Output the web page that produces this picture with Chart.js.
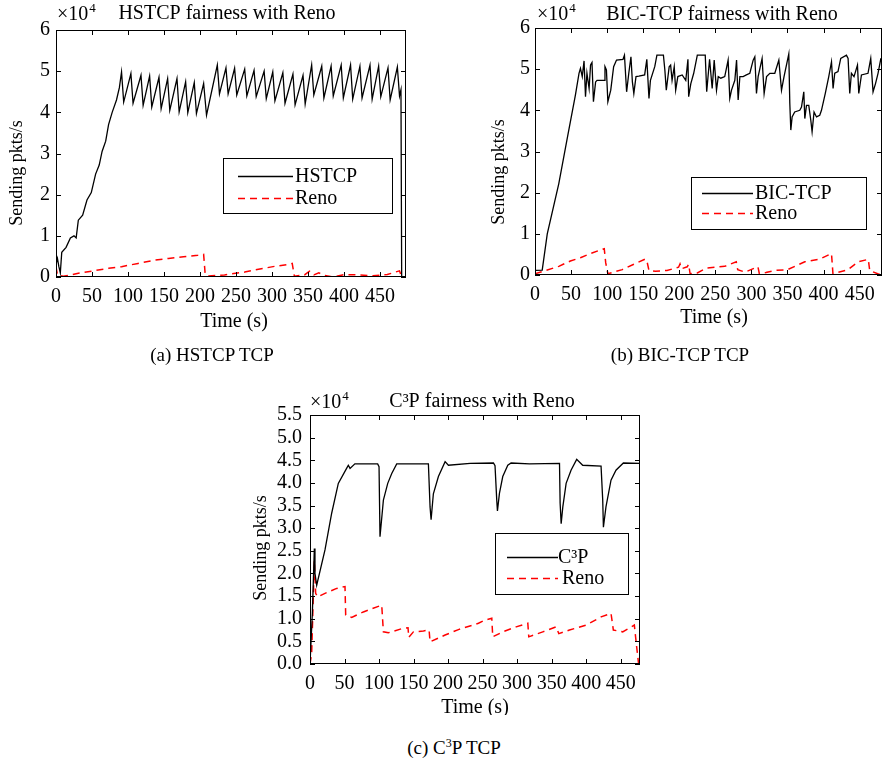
<!DOCTYPE html>
<html>
<head>
<meta charset="utf-8">
<title>Fairness with Reno</title>
<script src="https://cdn.jsdelivr.net/npm/chart.js@4.4.0/dist/chart.umd.min.js"></script>
<style>
  body { margin: 0; background: #fff; width: 889px; height: 759px; position: relative; overflow: hidden;
         font-family: 'Liberation Serif', 'Times New Roman', serif; color: #000; }
  .panel { position: absolute; }
  .caption { position: absolute; font-size: 19px; line-height: 20px; transform: translateX(-50%); white-space: nowrap; }
</style>
</head>
<body>
<div class="panel" style="left:0;top:0"><canvas id="hstcpChart" width="440" height="345"></canvas></div>
<div class="panel" style="left:445px;top:0"><canvas id="bicChart" width="444" height="345"></canvas></div>
<div class="panel" style="left:230px;top:385px"><canvas id="c3pChart" width="440" height="330"></canvas></div>
<div class="caption" style="left:212px;top:345px">(a) HSTCP TCP</div>
<div class="caption" style="left:680px;top:345px">(b) BIC-TCP TCP</div>
<div class="caption" style="left:454px;top:733px">(c) C<sup style="font-size:12px">3</sup>P TCP</div>

<script>
const SERIF = "'Liberation Serif', 'Times New Roman', serif";

// tick labels
const timeTicks = [0, 50, 100, 150, 200, 250, 300, 350, 400, 450];
const rateTicksAB = [0, 1, 2, 3, 4, 5, 6];
const rateTicksC = [0, 0.5, 1, 1.5, 2, 2.5, 3, 3.5, 4, 4.5, 5, 5.5];

// (a) HSTCP vs Reno, sending rate in units of 1e4 pkts/s
const hstcpTime = [0, 2, 4, 6, 8, 14, 20, 25, 28, 31, 37, 43, 49, 55, 60, 64, 69, 73, 78, 84, 88, 91, 94, 104, 107,
  118, 121, 130, 133, 143, 146, 155, 158, 168, 171, 180, 183, 192, 195, 205, 209, 224, 227, 236, 239, 248, 251,
  262, 265, 275, 278, 289, 292, 301, 304, 315, 318, 329, 332, 343, 346, 355, 358, 369, 372, 382, 385, 396, 399,
  409, 412, 422, 425, 436, 439, 448, 451, 461, 464, 474, 477, 479, 480];
const hstcpRate = [0.3, 0.45, 0.25, 0.1, 0.6, 0.72, 0.95, 1.0, 0.95, 1.38, 1.5, 1.87, 2.05, 2.5, 2.72, 3.05, 3.3, 3.7,
  4.0, 4.3, 4.6, 4.98, 4.25, 4.94, 4.22, 4.90, 4.17, 4.88, 4.13, 4.85, 4.09, 4.82, 4.05, 4.82, 4.01, 4.74, 3.99,
  4.72, 3.97, 4.70, 3.93, 5.15, 4.45, 5.08, 4.45, 5.07, 4.42, 5.05, 4.40, 5.02, 4.38, 5.00, 4.33, 4.98, 4.28,
  4.96, 4.22, 4.93, 4.18, 4.90, 4.20, 5.15, 4.42, 5.12, 4.35, 5.12, 4.40, 5.15, 4.35, 5.15, 4.32, 5.12, 4.35,
  5.15, 4.32, 5.12, 4.38, 5.08, 4.30, 5.10, 4.40, 4.55, 0];
const renoATime = [0, 2, 10, 20, 31, 52, 73, 91, 114, 137, 156, 177, 197, 205, 207, 210, 234, 262, 285, 304, 320,
  328, 331, 345, 352, 358, 365, 373, 385, 400, 420, 440, 460, 477, 480];
const renoARate = [0.25, 0.05, 0.02, 0.05, 0.09, 0.15, 0.21, 0.25, 0.33, 0.41, 0.45, 0.49, 0.53, 0.55, 0.1, 0.02,
  0.05, 0.12, 0.2, 0.26, 0.3, 0.33, 0.02, 0.05, 0.14, 0.05, 0.1, 0.04, 0.0, 0.06, 0.05, 0.03, 0.06, 0.15, 0];

// (b) BIC-TCP vs Reno
const bicTime = [0, 10, 17, 33, 45, 56, 61, 63, 65.5, 68, 70, 72, 75, 77, 79, 81, 84, 86, 96, 97, 99, 101, 105,
  109, 113, 122, 124, 127, 130, 133, 135, 137, 140, 144, 152, 155, 158, 160, 166, 169, 178, 180, 182, 186, 188,
  190, 193, 195, 198, 204, 209, 212, 213, 216, 220, 225, 236, 238, 242, 245.6, 248.4, 251.6, 254, 257.6, 263,
  267.7, 270, 272.4, 277, 279.4, 281.6, 284, 288.5, 293, 297.8, 302.4, 304.7, 307, 309.3, 314.8, 317.6, 321,
  325.5, 332.4, 338, 341.7, 345.2, 350, 351.8, 353.2, 354.6, 356.4, 360, 367, 369.4, 372.6, 374, 376.3, 379.5,
  382.3, 384.1, 386.8, 390.2, 394.7, 397.1, 402.4, 407.2, 411, 413.2, 415.5, 420, 423.8, 431.7, 434, 436.3,
  438.6, 442.2, 447, 448.8, 452.5, 461.6, 465.4, 468.6, 472, 475.5, 479.2, 481];
const bicRate = [0.11, 0.12, 1.0, 2.22, 3.35, 4.37, 4.9, 5.02, 4.82, 5.2, 4.33, 4.9, 4.53, 5.1, 5.16, 4.21, 4.69,
  4.73, 4.73, 5.06, 4.98, 4.21, 4.49, 5.06, 5.22, 5.24, 5.34, 4.45, 4.9, 5.3, 4.69, 4.41, 4.82, 4.83, 4.86, 5.24,
  4.29, 4.73, 5.06, 5.34, 5.34, 4.98, 4.49, 5.06, 5.1, 4.73, 5.06, 4.49, 4.82, 4.86, 4.73, 5.24, 4.33, 4.65, 4.9,
  5.34, 5.34, 4.45, 5.24, 4.53, 5.22, 4.49, 4.82, 4.78, 4.82, 5.22, 4.29, 4.49, 4.73, 5.22, 4.25, 4.82, 4.82,
  4.86, 4.9, 5.22, 5.3, 4.41, 4.82, 5.26, 4.41, 4.82, 4.9, 4.9, 5.22, 4.49, 4.82, 5.22, 5.37, 4.17, 3.52, 3.84,
  3.96, 4.0, 4.08, 4.45, 3.80, 4.12, 4.12, 3.76, 3.48, 3.96, 3.84, 3.88, 4.0, 4.41, 4.82, 5.18, 4.53, 4.9, 4.94,
  5.26, 5.34, 5.26, 4.41, 4.9, 4.82, 5.1, 4.41, 4.86, 4.9, 5.26, 4.45, 4.65, 4.9, 5.24, 5.2];
const renoBTime = [0, 15, 33, 49, 63, 77, 91, 96, 98, 101, 121, 137, 153, 155, 158, 167, 183, 199, 201, 203, 211,
  213, 215, 225, 238, 263, 279, 281, 291, 309, 311, 320, 332, 350, 374, 395, 411, 413, 434, 448, 462, 464, 475, 481];
const renoBRate = [0.03, 0.11, 0.21, 0.34, 0.42, 0.52, 0.61, 0.64, 0.3, 0.03, 0.13, 0.26, 0.39, 0.35, 0.11, 0.09,
  0.11, 0.19, 0.27, 0.15, 0.2, 0.26, 0.03, 0.05, 0.17, 0.21, 0.32, 0.13, 0.07, 0.2, 0.03, 0.06, 0.11, 0.13, 0.32,
  0.39, 0.52, 0.03, 0.13, 0.32, 0.38, 0.11, 0.03, 0.0];

// (c) C3P vs Reno
const c3pTime = [0, 3.4, 6.3, 7.2, 9.7, 21.7, 31.4, 41, 53, 55.5, 58, 65, 98, 100, 101.4, 106.3, 112.6, 118.4,
  125.6, 171.5, 173.9, 175.4, 178.7, 186, 195.7, 200.5, 232, 265.7, 268, 270.5, 271.5, 274.4, 279.2, 286.5, 291.3,
  318, 361.4, 362.3, 363.8, 366.2, 371, 378.1, 386.3, 395, 421.6, 424, 425, 428.7, 436, 443.2, 453.9, 478];
const c3pRate = [0, 1.12, 2.55, 2.0, 1.74, 2.52, 3.33, 3.99, 4.32, 4.39, 4.32, 4.42, 4.42, 4.36, 2.81, 3.62, 3.99,
  4.21, 4.42, 4.42, 3.47, 3.19, 3.76, 4.14, 4.47, 4.39, 4.43, 4.44, 4.38, 3.62, 3.38, 3.77, 4.14, 4.39, 4.44,
  4.42, 4.43, 3.55, 3.1, 3.47, 3.99, 4.28, 4.52, 4.39, 4.37, 3.62, 3.02, 3.47, 4.06, 4.28, 4.44, 4.43];
const renoCTime = [0, 2.4, 6.3, 8.2, 11.1, 21.7, 38.6, 50.7, 51.7, 60.4, 77.3, 103.9, 106.3, 113.5, 132.9, 142,
  143, 149.8, 164.3, 172.5, 173.9, 195.7, 215, 244, 253.6, 263.3, 264.7, 279.2, 298.6, 315.5, 316.9, 337.2,
  356.5, 360.4, 375.8, 400, 421.6, 436, 439.4, 452.9, 469.8, 473, 476];
const renoCRate = [0, 0.23, 2.29, 1.56, 1.48, 1.56, 1.67, 1.71, 1.08, 1.03, 1.15, 1.3, 0.71, 0.69, 0.78, 0.8, 0.59,
  0.71, 0.73, 0.75, 0.49, 0.64, 0.76, 0.9, 0.97, 1.01, 0.6, 0.71, 0.82, 0.9, 0.6, 0.71, 0.82, 0.67, 0.75, 0.86,
  1.04, 1.12, 0.75, 0.71, 0.86, 0.4, 0];

function pairs(t, v) {
  return t.map((x, i) => ({ x: x, y: v[i] }));
}

// matlab-like box: frame, inward ticks, title, exponent, axis titles, boxed legend
const paperFrame = {
  id: 'paperFrame',
  afterDraw(chart, args, o) {
    const ctx = chart.ctx;
    const a = chart.chartArea;
    const xs = chart.scales.x, ys = chart.scales.y;
    ctx.save();
    ctx.strokeStyle = '#000';
    ctx.lineWidth = 1;
    ctx.setLineDash([]);
    ctx.strokeRect(a.left + 0.5, a.top + 0.5, a.right - a.left - 1, a.bottom - a.top - 1);
    ctx.beginPath();
    xs.ticks.forEach(t => {
      const px = Math.round(xs.getPixelForValue(t.value)) + 0.5;
      ctx.moveTo(px, a.bottom); ctx.lineTo(px, a.bottom - 5);
      ctx.moveTo(px, a.top); ctx.lineTo(px, a.top + 5);
    });
    ys.ticks.forEach(t => {
      const py = Math.round(ys.getPixelForValue(t.value)) + 0.5;
      ctx.moveTo(a.left, py); ctx.lineTo(a.left + 5, py);
      ctx.moveTo(a.right, py); ctx.lineTo(a.right - 5, py);
    });
    ctx.stroke();

    ctx.fillStyle = '#000';
    ctx.textBaseline = 'middle';
    ctx.textAlign = 'center';
    ctx.font = '20px ' + SERIF;
    ctx.fillText(o.title, a.left + o.titleX, a.top + o.titleY);
    ctx.fillText(o.xTitle, a.left + o.xTitleX, a.bottom + o.xTitleY);

    ctx.textAlign = 'left';
    ctx.font = '20px ' + SERIF;
    ctx.fillText('\u00d710', a.left + o.expX, a.top + o.expY);
    const w = ctx.measureText('\u00d710').width;
    ctx.font = '13px ' + SERIF;
    ctx.fillText('4', a.left + o.expX + w + 1, a.top + o.expY - 6);

    ctx.save();
    ctx.translate(a.left + o.yTitleX, a.top + o.yTitleY);
    ctx.rotate(-Math.PI / 2);
    ctx.textAlign = 'center';
    ctx.font = '18px ' + SERIF;
    ctx.fillText(o.yTitle, 0, 0);
    ctx.restore();

    const L = o.legend;
    ctx.fillStyle = '#fff';
    ctx.fillRect(a.left + L.x, a.top + L.y, L.w, L.h);
    ctx.strokeRect(a.left + L.x + 0.5, a.top + L.y + 0.5, L.w, L.h);
    chart.data.datasets.forEach((ds, i) => {
      const ly = Math.round(a.top + L.rows[i]) + 0.5;
      ctx.strokeStyle = ds.borderColor;
      ctx.lineWidth = ds.borderWidth;
      ctx.setLineDash(ds.borderDash || []);
      ctx.beginPath();
      ctx.moveTo(a.left + L.line0, ly);
      ctx.lineTo(a.left + L.line1, ly);
      ctx.stroke();
      ctx.fillStyle = '#000';
      ctx.font = '20px ' + SERIF;
      ctx.textAlign = 'left';
      ctx.fillText(ds.label, a.left + L.text[i], ly);
    });
    ctx.restore();
  }
};

function makeChart(id, cfg) {
  return new Chart(document.getElementById(id), {
    type: 'line',
    data: {
      datasets: [
        { label: cfg.names[0], data: pairs(cfg.t1, cfg.v1), borderColor: '#000000', borderWidth: 1.3,
          pointRadius: 0, tension: 0, fill: false },
        { label: cfg.names[1], data: pairs(cfg.t2, cfg.v2), borderColor: '#ff0000', borderWidth: 1.5,
          borderDash: [7, 5], pointRadius: 0, tension: 0, fill: false }
      ]
    },
    options: {
      responsive: false,
      animation: false,
      devicePixelRatio: 1,
      layout: { padding: cfg.pad },
      plugins: { legend: { display: false }, tooltip: { enabled: false }, paperFrame: cfg.frame },
      scales: {
        x: {
          type: 'linear', min: 0, max: cfg.xMax,
          grid: { display: false, drawTicks: false }, border: { display: false },
          afterBuildTicks: s => { s.ticks = timeTicks.map(v => ({ value: v })); },
          afterFit: s => { s.height = cfg.xAxisH; },
          ticks: { padding: 8, color: '#000', autoSkip: false, maxRotation: 0,
                   font: { family: SERIF, size: 20 } }
        },
        y: {
          type: 'linear', min: cfg.yMin, max: cfg.yMax,
          grid: { display: false, drawTicks: false }, border: { display: false },
          afterBuildTicks: s => { s.ticks = cfg.yTicks.map(v => ({ value: v })); },
          afterFit: s => { s.width = cfg.yAxisW; },
          ticks: { padding: cfg.yPad, color: '#000', autoSkip: false,
                   font: { family: SERIF, size: 20 }, callback: cfg.yFmt }
        }
      }
    },
    plugins: [paperFrame]
  });
}

makeChart('hstcpChart', {
  names: ['HSTCP', 'Reno'], t1: hstcpTime, v1: hstcpRate, t2: renoATime, v2: renoARate,
  xMax: 486, yMin: 0, yMax: 6, yTicks: rateTicksAB, yFmt: v => String(v),
  pad: { left: 0, top: 30, right: 34, bottom: 0 }, yAxisW: 56, xAxisH: 68, yPad: 6,
  frame: {
    title: 'HSTCP fairness with Reno', titleX: 171, titleY: -16, expX: 1, expY: -15,
    yTitle: 'Sending pkts/s', yTitleX: -39, yTitleY: 143, xTitle: 'Time (s)', xTitleX: 178, xTitleY: 45,
    legend: { x: 167, y: 128, w: 169, h: 55, line0: 182, line1: 237, text: [239, 239], rows: [146, 168] }
  }
});

makeChart('bicChart', {
  names: ['BIC-TCP', 'Reno'], t1: bicTime, v1: bicRate, t2: renoBTime, v2: renoBRate,
  xMax: 481, yMin: 0, yMax: 6, yTicks: rateTicksAB, yFmt: v => String(v),
  pad: { left: 0, top: 28, right: 7, bottom: 0 }, yAxisW: 90, xAxisH: 70, yPad: 5,
  frame: {
    title: 'BIC-TCP fairness with Reno', titleX: 187, titleY: -13, expX: 2, expY: -13,
    yTitle: 'Sending pkts/s', yTitleX: -36, yTitleY: 144, xTitle: 'Time (s)', xTitleX: 179, xTitleY: 43,
    legend: { x: 156, y: 149, w: 175, h: 52, line0: 167, line1: 218, text: [220, 220], rows: [165, 185] }
  }
});

makeChart('c3pChart', {
  names: ['C\u00b3P', 'Reno'], t1: c3pTime, v1: c3pRate, t2: renoCTime, v2: renoCRate,
  xMax: 478, yMin: 0, yMax: 5.5, yTicks: rateTicksC, yFmt: v => v.toFixed(1),
  pad: { left: 0, top: 30, right: 30, bottom: 0 }, yAxisW: 80, xAxisH: 51, yPad: 8,
  frame: {
    title: 'C\u00b3P fairness with Reno', titleX: 172, titleY: -13, expX: 0, expY: -12,
    yTitle: 'Sending pkts/s', yTitleX: -49, yTitleY: 133, xTitle: 'Time (s)', xTitleX: 165, xTitleY: 44,
    legend: { x: 185, y: 118, w: 133, h: 61, line0: 197, line1: 248, text: [248, 252], rows: [142, 163] }
  }
});
</script>
</body>
</html>
